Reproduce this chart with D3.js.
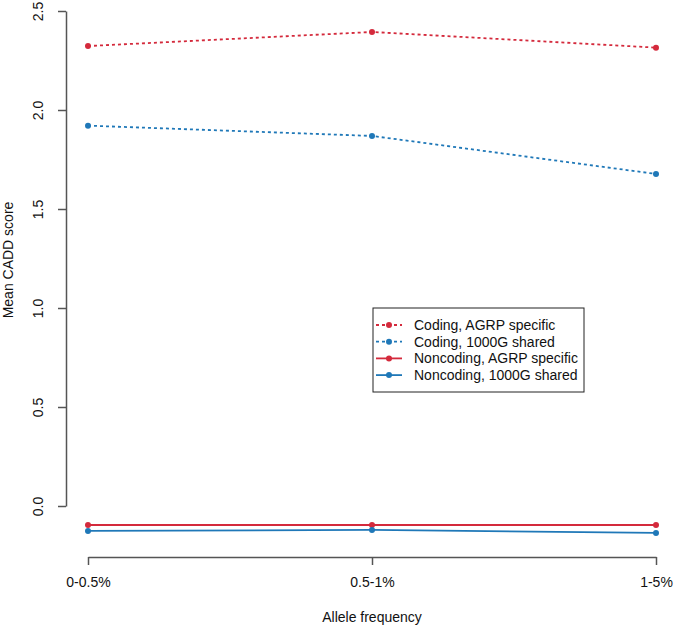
<!DOCTYPE html>
<html><head><meta charset="utf-8">
<script src="https://cdn.jsdelivr.net/npm/d3@7"></script>
<style>body{margin:0;background:#fff}svg{display:block;font-family:"Liberation Sans",Arial,sans-serif}</style>
</head><body>
<svg id="c" width="675" height="626"></svg>
<script>
const categories = ["0-0.5%", "0.5-1%", "1-5%"];
const codingAGRP = [2.323, 2.394, 2.315];
const coding1000G = [1.921, 1.869, 1.677];
const noncodingAGRP = [-0.096, -0.096, -0.096];
const noncoding1000G = [-0.126, -0.121, -0.136];
const yTicks = [0.0, 0.5, 1.0, 1.5, 2.0, 2.5];
const seriesNames = ["Coding, AGRP specific", "Coding, 1000G shared", "Noncoding, AGRP specific", "Noncoding, 1000G shared"];

const red = "#d42a3c", blue = "#1f78b8";
const series = [
  {name: seriesNames[0], values: codingAGRP, color: red, dash: "3,3"},
  {name: seriesNames[1], values: coding1000G, color: blue, dash: "3,3"},
  {name: seriesNames[2], values: noncodingAGRP, color: red, dash: null},
  {name: seriesNames[3], values: noncoding1000G, color: blue, dash: null}
];

const svg = d3.select("#c");
const x = d3.scalePoint().domain(categories).range([88, 656]);
const y = d3.scaleLinear().domain([0, 2.5]).range([506, 11]);
const axisColor = "#555";
const fs = 14;

// Y axis
const ya = svg.append("g").attr("transform", "translate(66,0)")
  .call(d3.axisLeft(y).tickValues(yTicks).tickFormat(d3.format(".1f")).tickSize(8).tickSizeOuter(0));
ya.select(".domain").attr("stroke", axisColor).attr("stroke-width", 1.5);
ya.selectAll(".tick line").attr("stroke", axisColor).attr("stroke-width", 1.5);
ya.selectAll(".tick text").attr("font-size", fs).attr("fill", "#111")
  .attr("transform", "rotate(-90)").attr("x", 0).attr("y", -23).attr("dy", 0)
  .attr("text-anchor", "middle");

// X axis
const xa = svg.append("g").attr("transform", "translate(0,557)")
  .call(d3.axisBottom(x).tickSize(8).tickSizeOuter(0));
xa.select(".domain").attr("stroke", axisColor).attr("stroke-width", 1.5);
xa.selectAll(".tick line").attr("stroke", axisColor).attr("stroke-width", 1.5);
xa.selectAll(".tick text").attr("font-size", fs).attr("fill", "#111").attr("y", 20).attr("dy", "0.71em");

// Axis titles
svg.append("text").attr("x", 372).attr("y", 622).attr("text-anchor", "middle")
  .attr("font-size", fs).attr("fill", "#111").text("Allele frequency");
svg.append("text").attr("transform", "translate(13,260) rotate(-90)").attr("text-anchor", "middle")
  .attr("font-size", fs).attr("fill", "#111").text("Mean CADD score");

// Lines
const line = d3.line().x((d, i) => x(categories[i])).y(d => y(d));
series.forEach(s => {
  svg.append("path").attr("d", line(s.values)).attr("fill", "none")
    .attr("stroke", s.color).attr("stroke-width", 1.8)
    .attr("stroke-dasharray", s.dash);
  svg.selectAll(null).data(s.values).enter().append("circle")
    .attr("cx", (d, i) => x(categories[i])).attr("cy", d => y(d)).attr("r", 3)
    .attr("fill", s.color);
});

// Legend
const lg = svg.append("g");
lg.append("rect").attr("x", 373).attr("y", 308).attr("width", 211).attr("height", 84)
  .attr("fill", "#fff").attr("stroke", "#222").attr("stroke-width", 1);
series.forEach((s, i) => {
  const yy = 325 + i * 16.7;
  lg.append("line").attr("x1", 376).attr("x2", 402).attr("y1", yy).attr("y2", yy)
    .attr("stroke", s.color).attr("stroke-width", 1.8).attr("stroke-dasharray", s.dash);
  lg.append("circle").attr("cx", 389).attr("cy", yy).attr("r", 3).attr("fill", s.color);
  lg.append("text").attr("x", 414).attr("y", yy).attr("dy", "0.35em")
    .attr("font-size", fs).attr("fill", "#111").text(s.name);
});
</script>
</body></html>
